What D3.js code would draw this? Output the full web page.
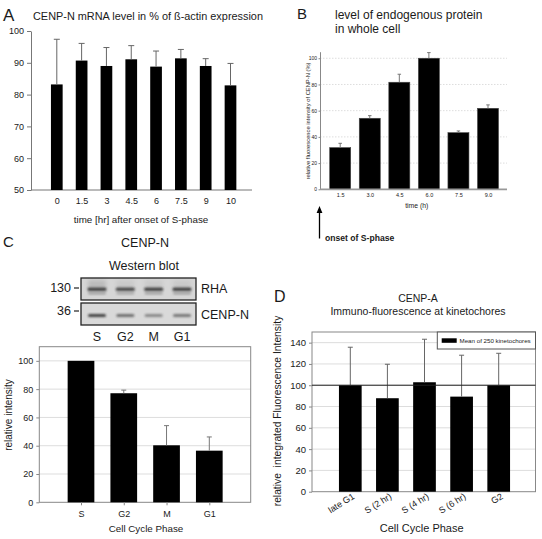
<!DOCTYPE html>
<html><head><meta charset="utf-8">
<script src="https://cdn.jsdelivr.net/npm/d3@7"></script>
<style>body{margin:0;background:#fff} svg{display:block;font-family:"Liberation Sans",Arial,sans-serif}</style>
</head><body>
<svg id="chart" width="542" height="539"></svg>
<script>
// ---------- data ----------
// Panel A
const aCategories = ["0","1.5","3","4.5","6","7.5","9","10"];
const aValues = [83.2, 90.7, 89.0, 91.1, 88.8, 91.4, 89.0, 82.9];
const aErrors = [14.2, 5.4, 5.8, 4.3, 4.9, 2.8, 2.3, 6.9];
const aTicks = [50, 60, 70, 80, 90, 100];
// Panel B
const bCategories = ["1.5","3.0","4.5","6.0","7.5","9.0"];
const bValues = [31.8, 54.2, 81.7, 100, 43.2, 61.8];
const bErrors = [3.3, 2.0, 6.1, 4.3, 1.3, 2.6];
const bTicks = [0, 20, 40, 60, 80, 100];
// Panel C
const cCategories = ["S","G2","M","G1"];
const cValues = [100, 77.1, 40.3, 36.5];
const cErrors = [0, 2.2, 13.9, 9.7];
const cTicks = [0, 20, 40, 60, 80, 100];
const blotLanes = ["S","G2","M","G1"];
const rhaBand = [0.85, 0.8, 0.85, 0.85];
const rhaLower = [0.35, 0.3, 0.35, 0.35];
const cenpnBand = [0.85, 0.6, 0.45, 0.55];
// Panel D
const dCategories = ["late G1","S (2 hr)","S (4 hr)","S (6 hr)","G2"];
const dValues = [100, 87.8, 102.8, 89.3, 100];
const dErrors = [35.7, 31.9, 40.4, 38.9, 30.0];
const dTicks = [0, 20, 40, 60, 80, 100, 120, 140];

const svg = d3.select("#chart");
const TXT = "#1a1a1a";

function errorBars(g, cats, vals, errs, x, y, cap, color) {
  cats.forEach((c, i) => {
    if (!errs[i]) return;
    const cx = x(c);
    g.append("line").attr("x1", cx).attr("x2", cx)
      .attr("y1", y(vals[i])).attr("y2", y(vals[i] + errs[i]))
      .attr("stroke", color).attr("stroke-width", 1);
    g.append("line").attr("x1", cx - cap / 2).attr("x2", cx + cap / 2)
      .attr("y1", y(vals[i] + errs[i])).attr("y2", y(vals[i] + errs[i]))
      .attr("stroke", color).attr("stroke-width", 1);
  });
}
function styleAxis(sel, fs, col) {
  sel.selectAll("path.domain").attr("stroke", col);
  sel.selectAll(".tick line").attr("stroke", col);
  sel.selectAll(".tick text").attr("font-size", fs).attr("fill", TXT)
     .attr("font-family", '"Liberation Sans",Arial,sans-serif');
}

// ---------- Panel A ----------
{
  const g = svg.append("g");
  const x = d3.scalePoint().domain(aCategories).range([56.8, 230.5]);
  const y = d3.scaleLinear().domain([50, 100]).range([190, 31]);
  const bw = 11.7;
  g.append("text").attr("x", 3).attr("y", 21).attr("font-size", 17).attr("fill", TXT).text("A");
  g.append("text").attr("x", 33).attr("y", 20).attr("font-size", 10.9).attr("fill", TXT)
    .text("CENP-N mRNA level in % of ß-actin expression");
  const ya = g.append("g").attr("transform", "translate(31,0)")
    .call(d3.axisLeft(y).tickValues(aTicks).tickSize(4).tickSizeOuter(0).tickPadding(3));
  styleAxis(ya, 9, "#777");
  g.append("line").attr("x1", 31).attr("x2", 252).attr("y1", y(50)).attr("y2", y(50)).attr("stroke", "#777");
  g.selectAll("rect.bar").data(aCategories).join("rect")
    .attr("x", d => x(d) - bw / 2).attr("width", bw)
    .attr("y", (d, i) => y(aValues[i])).attr("height", (d, i) => y(50) - y(aValues[i]))
    .attr("fill", "#000");
  errorBars(g, aCategories, aValues, aErrors, x, y, 6, "#666");
  const xa = g.append("g").attr("transform", `translate(0,${y(50)})`)
    .call(d3.axisBottom(x).tickSize(0).tickPadding(8));
  xa.select("path.domain").remove();
  styleAxis(xa, 9, "#777");
  g.append("text").attr("x", 141).attr("y", 222.5).attr("text-anchor", "middle")
    .attr("font-size", 9.8).attr("fill", TXT).text("time [hr] after onset of S-phase");
}

// ---------- Panel B ----------
{
  const g = svg.append("g");
  const x = d3.scalePoint().domain(bCategories).range([340.2, 488]);
  const y = d3.scaleLinear().domain([0, 105]).range([189.3, 51.7]);
  const bw = 21;
  g.append("text").attr("x", 297).attr("y", 19).attr("font-size", 15).attr("fill", TXT).text("B");
  g.append("text").attr("x", 335).attr("y", 19).attr("font-size", 12).attr("fill", TXT).text("level of endogenous protein");
  g.append("text").attr("x", 335).attr("y", 33).attr("font-size", 12).attr("fill", TXT).text("in whole cell");
  bTicks.filter(t => t > 0).forEach(t => {
    g.append("line").attr("x1", 320).attr("x2", 507).attr("y1", y(t)).attr("y2", y(t))
      .attr("stroke", "#ddd").attr("stroke-dasharray", "1.5,1.5");
  });
  const ya = g.append("g").attr("transform", "translate(320,0)")
    .call(d3.axisLeft(y).tickValues(bTicks).tickSize(1.5).tickSizeOuter(0).tickPadding(1.5));
  styleAxis(ya, 5, "#888");
  g.selectAll("rect.bar").data(bCategories).join("rect")
    .attr("x", d => x(d) - bw / 2).attr("width", bw)
    .attr("y", (d, i) => y(bValues[i])).attr("height", (d, i) => y(0) - y(bValues[i]))
    .attr("fill", "#000").attr("stroke", "#444").attr("stroke-width", 0.6);
  errorBars(g, bCategories, bValues, bErrors, x, y, 3.5, "#777");
  g.append("line").attr("x1", 320).attr("x2", 507).attr("y1", y(0)).attr("y2", y(0))
    .attr("stroke", "#999").attr("stroke-width", 1.8);
  const xa = g.append("g").attr("transform", `translate(0,${y(0)})`)
    .call(d3.axisBottom(x).tickSize(0).tickPadding(4));
  xa.select("path.domain").remove();
  styleAxis(xa, 5.5, "#888");
  g.append("text").attr("x", 416.7).attr("y", 207.5).attr("text-anchor", "middle")
    .attr("font-size", 6.8).attr("fill", TXT).text("time (h)");
  g.append("text").attr("transform", "translate(310,121) rotate(-90)").attr("text-anchor", "middle")
    .attr("font-size", 5.8).attr("fill", TXT).text("relative fluorescence intensity of CENP-N (%)");
  g.append("line").attr("x1", 319.5).attr("x2", 319.5).attr("y1", 238.5).attr("y2", 211)
    .attr("stroke", "#000").attr("stroke-width", 1.3);
  g.append("path").attr("d", "M319.5,206L316.6,213L322.4,213Z").attr("fill", "#000");
  g.append("text").attr("x", 325).attr("y", 241).attr("font-size", 8.6).attr("font-weight", "bold")
    .attr("fill", TXT).text("onset of S-phase");
}

// ---------- Panel C ----------
{
  const g = svg.append("g");
  g.append("text").attr("x", 3).attr("y", 247).attr("font-size", 15).attr("fill", TXT).text("C");
  g.append("text").attr("x", 145).attr("y", 247).attr("text-anchor", "middle").attr("font-size", 12.5).attr("fill", TXT).text("CENP-N");
  g.append("text").attr("x", 144).attr("y", 270).attr("text-anchor", "middle").attr("font-size", 12.5).attr("fill", TXT).text("Western blot");
  // blot
  const defs = svg.append("defs");
  defs.append("filter").attr("id", "blur").attr("x", "-20%").attr("y", "-50%").attr("width", "140%").attr("height", "200%")
    .append("feGaussianBlur").attr("stdDeviation", 0.9);
  defs.append("filter").attr("id", "blur2").attr("x", "-20%").attr("y", "-50%").attr("width", "140%").attr("height", "200%")
    .append("feGaussianBlur").attr("stdDeviation", 2);
  const lane = d3.scalePoint().domain(blotLanes).range([97, 182]);
  const boxX = 81, boxW = 115;
  const rhaY = 278, rhaH = 22, cnY = 303, cnH = 22;
  g.append("rect").attr("x", boxX).attr("y", rhaY).attr("width", boxW).attr("height", rhaH).attr("fill", "#d6d6d6");
  g.append("rect").attr("x", boxX).attr("y", cnY).attr("width", boxW).attr("height", cnH).attr("fill", "#d9d9d9");
  blotLanes.forEach((l, i) => {
    g.append("rect").attr("x", lane(l) - 9).attr("y", rhaY + 2).attr("width", 18).attr("height", 8)
      .attr("fill", "#999").attr("opacity", i === 0 ? 0.45 : 0.2).attr("filter", "url(#blur2)");
    g.append("rect").attr("x", lane(l) - 9.5).attr("y", rhaY + 9.5).attr("width", 19).attr("height", 3.5).attr("rx", 1.5)
      .attr("fill", "#2a2a2a").attr("opacity", rhaBand[i]).attr("filter", "url(#blur)");
    g.append("rect").attr("x", lane(l) - 9).attr("y", rhaY + 14).attr("width", 18).attr("height", 2.5).attr("rx", 1)
      .attr("fill", "#444").attr("opacity", rhaLower[i]).attr("filter", "url(#blur)");
    g.append("rect").attr("x", lane(l) - 9).attr("y", cnY + 11).attr("width", 18).attr("height", 3).attr("rx", 1.5)
      .attr("fill", "#2a2a2a").attr("opacity", cenpnBand[i]).attr("filter", "url(#blur)");
  });
  g.append("rect").attr("x", boxX).attr("y", rhaY).attr("width", boxW).attr("height", rhaH).attr("fill", "none").attr("stroke", "#222").attr("stroke-width", 1.3);
  g.append("rect").attr("x", boxX).attr("y", cnY).attr("width", boxW).attr("height", cnH).attr("fill", "none").attr("stroke", "#222").attr("stroke-width", 1.3);
  g.append("text").attr("x", 71).attr("y", 292).attr("text-anchor", "end").attr("font-size", 12.5).attr("fill", TXT).text("130");
  g.append("line").attr("x1", 74).attr("x2", 79).attr("y1", 288).attr("y2", 288).attr("stroke", "#222").attr("stroke-width", 1.2);
  g.append("text").attr("x", 71).attr("y", 315).attr("text-anchor", "end").attr("font-size", 12.5).attr("fill", TXT).text("36");
  g.append("line").attr("x1", 74).attr("x2", 79).attr("y1", 311).attr("y2", 311).attr("stroke", "#222").attr("stroke-width", 1.2);
  g.append("text").attr("x", 201).attr("y", 293).attr("font-size", 12.5).attr("fill", TXT).text("RHA");
  g.append("text").attr("x", 201).attr("y", 319).attr("font-size", 12.5).attr("fill", TXT).text("CENP-N");
  blotLanes.forEach(l => {
    g.append("text").attr("x", lane(l)).attr("y", 341).attr("text-anchor", "middle").attr("font-size", 12.5).attr("fill", TXT).text(l);
  });
  // chart
  const x = d3.scalePoint().domain(cCategories).range([81, 209.3]);
  const y = d3.scaleLinear().domain([0, 110]).range([502.3, 346.7]);
  const bw = 26.7;
  cTicks.filter(t => t > 0).forEach(t => {
    g.append("line").attr("x1", 39.3).attr("x2", 250.7).attr("y1", y(t)).attr("y2", y(t)).attr("stroke", "#ddd");
  });
  g.append("rect").attr("x", 39.3).attr("y", y(110)).attr("width", 211.4).attr("height", y(0) - y(110))
    .attr("fill", "none").attr("stroke", "#888");
  const ya = g.append("g").attr("transform", "translate(39.3,0)")
    .call(d3.axisLeft(y).tickValues(cTicks).tickSize(3).tickSizeOuter(0).tickPadding(3));
  ya.select("path.domain").remove();
  styleAxis(ya, 9, "#888");
  g.selectAll("rect.bar").data(cCategories).join("rect")
    .attr("x", d => x(d) - bw / 2).attr("width", bw)
    .attr("y", (d, i) => y(cValues[i])).attr("height", (d, i) => y(0) - y(cValues[i]))
    .attr("fill", "#000");
  errorBars(g, cCategories, cValues, cErrors, x, y, 5, "#777");
  const xa = g.append("g").attr("transform", `translate(0,${y(0)})`)
    .call(d3.axisBottom(x).tickSize(3).tickPadding(5));
  xa.select("path.domain").remove();
  styleAxis(xa, 9, "#888");
  g.append("text").attr("transform", "translate(12,415) rotate(-90)").attr("text-anchor", "middle")
    .attr("font-size", 10).attr("fill", TXT).text("relative intensity");
  g.append("text").attr("x", 146).attr("y", 532).attr("text-anchor", "middle")
    .attr("font-size", 9.8).attr("fill", TXT).text("Cell Cycle Phase");
}

// ---------- Panel D ----------
{
  const g = svg.append("g");
  g.append("text").attr("x", 274).attr("y", 302).attr("font-size", 16).attr("fill", TXT).text("D");
  g.append("text").attr("x", 418).attr("y", 302).attr("text-anchor", "middle").attr("font-size", 10.5).attr("fill", TXT).text("CENP-A");
  g.append("text").attr("x", 418).attr("y", 315).attr("text-anchor", "middle").attr("font-size", 10.5).attr("fill", TXT).text("Immuno-fluorescence at kinetochores");
  const x = d3.scalePoint().domain(dCategories).range([350.3, 498.7]);
  const y = d3.scaleLinear().domain([0, 150]).range([491.7, 332]);
  const bw = 22.7, L = 312, R = 535.5;
  dTicks.filter(t => t > 0).forEach(t => {
    g.append("line").attr("x1", L).attr("x2", R).attr("y1", y(t)).attr("y2", y(t)).attr("stroke", "#ddd");
  });
  g.append("rect").attr("x", L).attr("y", y(150)).attr("width", R - L).attr("height", y(0) - y(150))
    .attr("fill", "none").attr("stroke", "#888");
  const ya = g.append("g").attr("transform", `translate(${L},0)`)
    .call(d3.axisLeft(y).tickValues(dTicks).tickSize(3).tickSizeOuter(0).tickPadding(3));
  ya.select("path.domain").remove();
  styleAxis(ya, 9.5, "#888");
  g.selectAll("rect.bar").data(dCategories).join("rect")
    .attr("x", d => x(d) - bw / 2).attr("width", bw)
    .attr("y", (d, i) => y(dValues[i])).attr("height", (d, i) => y(0) - y(dValues[i]))
    .attr("fill", "#000");
  errorBars(g, dCategories, dValues, dErrors, x, y, 5, "#666");
  g.append("line").attr("x1", L).attr("x2", R).attr("y1", y(100)).attr("y2", y(100)).attr("stroke", "#222").attr("stroke-width", 1);
  // legend
  g.append("rect").attr("x", 437.3).attr("y", 332).attr("width", 98.2).attr("height", 17).attr("fill", "#fff").attr("stroke", "#555");
  g.append("rect").attr("x", 441.7).attr("y", 338.3).attr("width", 15).attr("height", 4.5).attr("fill", "#000");
  g.append("text").attr("x", 459.5).attr("y", 342.8).attr("font-size", 6.2).attr("fill", TXT).text("Mean of 250 kinetochores");
  // x labels
  dCategories.forEach(c => {
    g.append("text").attr("transform", `translate(${x(c) + 5},${498}) rotate(-32)`)
      .attr("text-anchor", "end").attr("font-size", 9).attr("fill", TXT).text(c);
  });
  g.append("text").attr("transform", "translate(281,411) rotate(-90)").attr("text-anchor", "middle")
    .attr("font-size", 10.3).attr("fill", TXT).attr("xml:space", "preserve").style("white-space", "pre")
    .text("relative  integrated Fluorescence Intensity");
  g.append("text").attr("x", 421.7).attr("y", 532).attr("text-anchor", "middle")
    .attr("font-size", 11).attr("fill", TXT).text("Cell Cycle Phase");
}
</script></body></html>
